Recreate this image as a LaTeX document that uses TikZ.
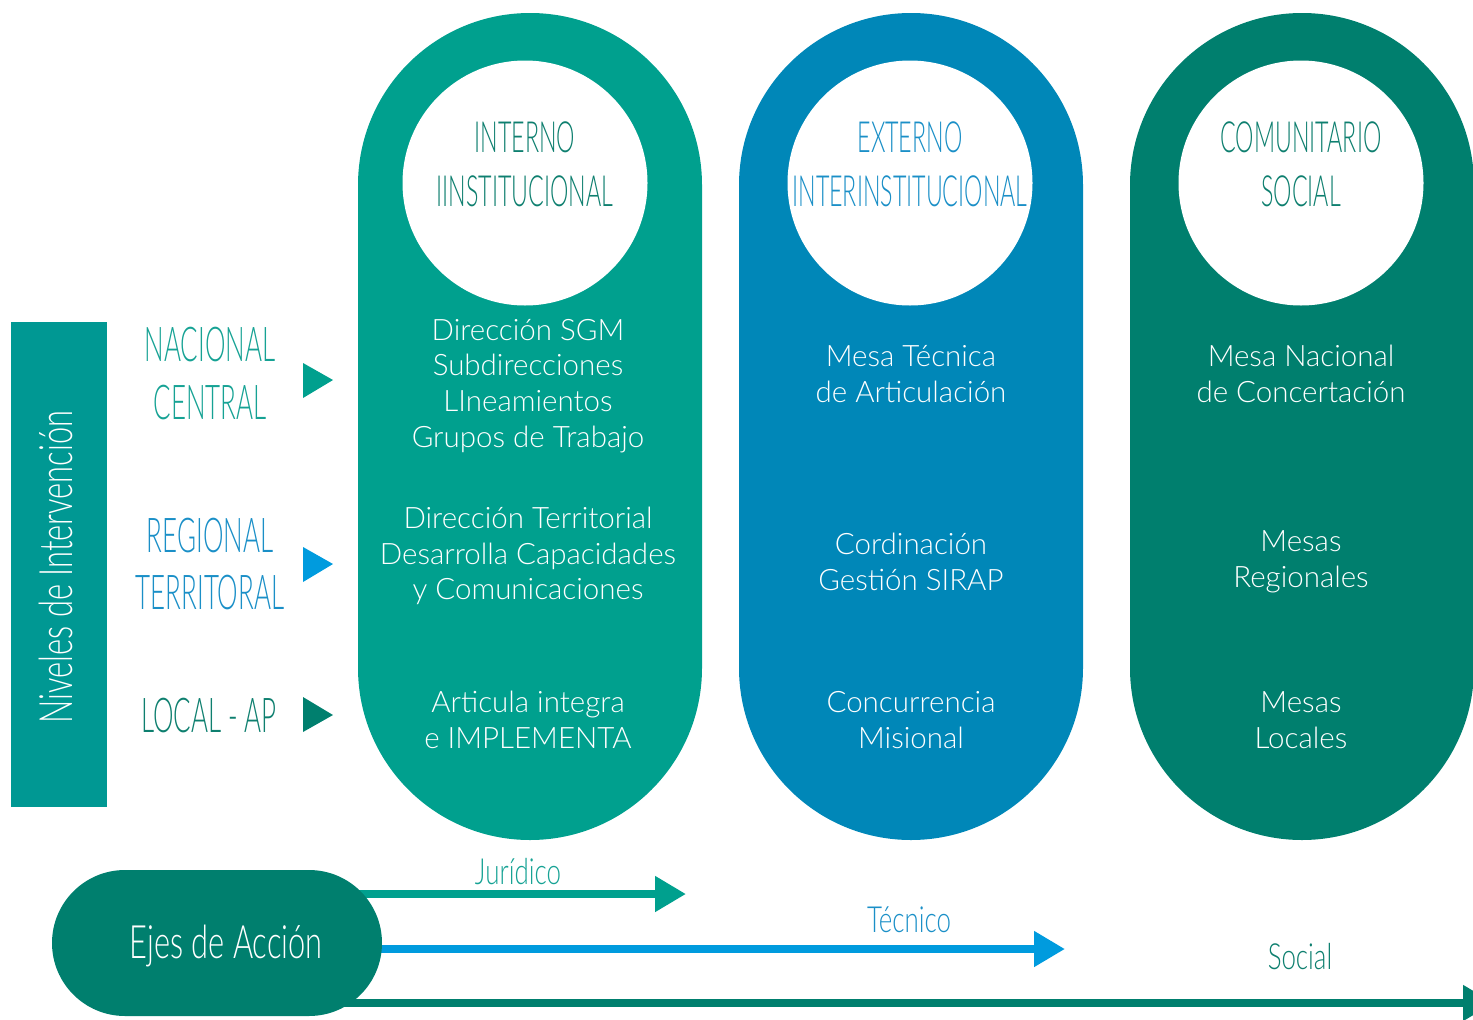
\documentclass[tikz,border=0pt]{standalone}
\usepackage{fontspec}
\setmainfont{Lato Light}
\newfontfamily\condfont{Lato Light}[FakeStretch=0.54]
\newfontfamily\semifont{Lato Light}[FakeStretch=0.72]
\newfontfamily\ejfont{Lato Light}[FakeStretch=0.67]
\usetikzlibrary{arrows.meta}
\definecolor{cteal}{HTML}{00A08E}
\definecolor{cblue}{HTML}{0087B8}
\definecolor{cdark}{HTML}{007F6E}
\definecolor{cbar}{HTML}{009893}
\definecolor{cbright}{HTML}{009BDE}
\definecolor{tteal}{HTML}{16A294}
\definecolor{tblue}{HTML}{1A8FC7}
\definecolor{tdark}{HTML}{0E7F6F}
\tikzset{
  body/.style={text=white,align=center,font=\fontsize{29.5}{35.7}\selectfont,inner sep=0pt},
  ctitle/.style={align=center,font=\condfont\fontsize{43}{54}\selectfont,inner sep=0pt},
  lvl/.style={align=center,font=\condfont\fontsize{48}{58}\selectfont,inner sep=0pt},
  axis/.style={font=\semifont\fontsize{36}{40}\selectfont,inner sep=0pt},
  ejeline/.style={line width=8pt,-{Triangle[length=31pt,width=34pt]}}
}
\begin{document}
\begin{tikzpicture}[x=1pt,y=-1pt]
\useasboundingbox (0,0) rectangle (1473,1020);
\clip (0,0) rectangle (1473,1020);
% pills
\fill[cteal,rounded corners=172pt] (358,13) rectangle (702,840);
\fill[cblue,rounded corners=172pt] (739,13) rectangle (1083,840);
\fill[cdark,rounded corners=172pt] (1130,13) rectangle (1474,840);
\fill[white] (525,183) circle (122.5);
\fill[white] (910,183) circle (122.5);
\fill[white] (1301,183) circle (122.5);
% circle titles
\node[ctitle,text=tdark] (t1) at (525,164) {INTERNO\\IINSTITUCIONAL};
\node[ctitle,text=tblue] (t2) at (910,164) {EXTERNO\\INTERINSTITUCIONAL};
\node[ctitle,text=tdark] (t3) at (1301,164) {COMUNITARIO\\SOCIAL};
% pill texts
\node[body] (a1) at (528,386) {Dirección SGM\\Subdirecciones\\LIneamientos\\Grupos de Trabajo};
\node[body] (a2) at (528,556) {Dirección Territorial\\Desarrolla Capacidades\\y Comunicaciones};
\node[body] (a3) at (528,720) {Articula integra\\e IMPLEMENTA};
\node[body] (b1) at (911,374) {Mesa Técnica\\de Articulación};
\node[body] (b2) at (911,562) {Cordinación\\Gestión SIRAP};
\node[body] (b3) at (911,720) {Concurrencia\\Misional};
\node[body] (c1) at (1301,374) {Mesa Nacional\\de Concertación};
\node[body] (c2) at (1301,562) {Mesas\\Regionales};
\node[body] (c3) at (1301,720) {Mesas\\Locales};
% left bar
\fill[cbar] (11,322) rectangle (107,807);
\node[rotate=90,text=white,font=\ejfont\fontsize{46}{50}\selectfont,inner sep=0pt] (niv) at (56,567) {Niveles de Intervención};
% level labels
\node[lvl,text=tteal] (l1) at (210,374) {NACIONAL\\CENTRAL};
\node[lvl,text=tblue] (l2) at (210,564) {REGIONAL\\TERRITORAL};
\node[lvl,text=tdark] (l3) at (209,716) {LOCAL - AP};
\fill[cteal] (303,363) -- (333,380) -- (303,398) -- cycle;
\fill[cbright] (303,547) -- (333,564) -- (303,582) -- cycle;
\fill[cdark] (303,697) -- (333,715) -- (303,732) -- cycle;
% axes
\coordinate (jend) at (686,894);
\coordinate (tend) at (1065,949);
\coordinate (send) at (1494,1003);
\node[inner sep=0pt,minimum width=330pt,minimum height=146pt] (ejes) at (217,943) {};
\draw[ejeline,cteal] (355,894) -- (jend);
\draw[ejeline,cbright] (370,949) -- (tend);
\draw[ejeline,cdark] (340,1003) -- (send);
\fill[cdark,rounded corners=73pt] (52,870) rectangle (382,1016);
\node[text=white,font=\ejfont\fontsize{46}{50}\selectfont,inner sep=0pt] (ejt) at (226,946) {Ejes de Acción};
\node[axis,text=tteal] (jur) at (518,872) {Jurídico};
\node[axis,text=tblue] (tec) at (909,920) {Técnico};
\node[axis,text=tdark] (soc) at (1300,957) {Social};
\end{tikzpicture}
\end{document}
